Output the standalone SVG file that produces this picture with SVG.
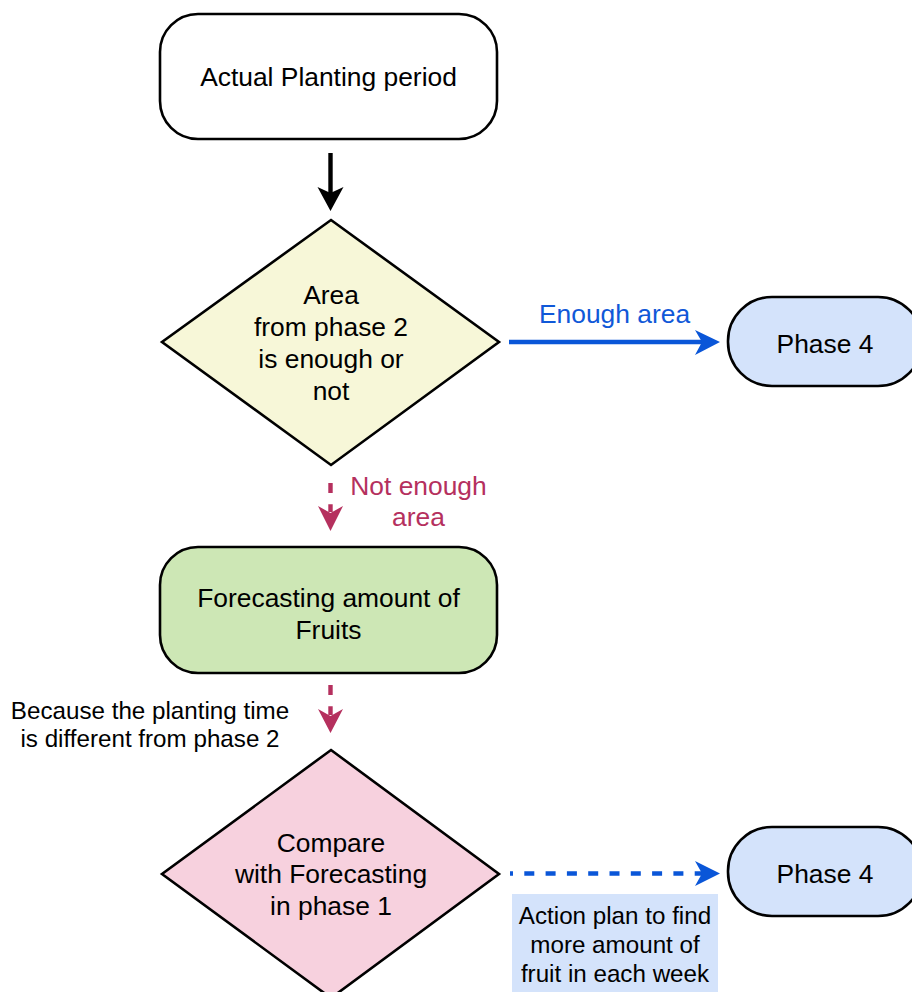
<svg xmlns="http://www.w3.org/2000/svg" width="912" height="992" viewBox="0 0 912 992">
  <defs>
    <style>
      text { font-family: "Liberation Sans", Arial, Helvetica, sans-serif; text-anchor: middle; }
      .main { font-size: 26.4px; fill: #000; }
      .small { font-size: 24.2px; fill: #000; }
      .node { stroke: #000; stroke-width: 2.6; }
      .blue-t { fill: #1058d8; }
      .pink-t { fill: #b5305e; }
    </style>
  </defs>
  <rect width="912" height="992" fill="#ffffff"/>

  <g id="node-actual-planting">
    <rect class="node" x="160" y="14" width="337" height="125" rx="38" ry="38" fill="#ffffff"/>
    <text class="main" x="328.5" y="86">Actual Planting period</text>
  </g>

  <g id="node-area-decision">
    <polygon class="node" points="331,220 499,342 331,465 162,342" fill="#f7f7d8"/>
    <text class="main" x="331" y="304">Area</text>
    <text class="main" x="331" y="336">from phase 2</text>
    <text class="main" x="331" y="368">is enough or</text>
    <text class="main" x="331" y="400">not</text>
  </g>

  <g id="node-phase4-a">
    <rect class="node" x="728" y="297" width="194" height="89" rx="44" ry="44" fill="#d4e3fb"/>
    <text class="main" x="825" y="353">Phase 4</text>
  </g>

  <g id="node-forecasting">
    <rect class="node" x="160" y="547" width="337" height="126" rx="38" ry="38" fill="#cde7b5"/>
    <text class="main" x="328.5" y="607">Forecasting amount of</text>
    <text class="main" x="328.5" y="639">Fruits</text>
  </g>

  <g id="node-compare-decision">
    <polygon class="node" points="331,750 499,874 331,998 162,874" fill="#f7d1de"/>
    <text class="main" x="331" y="852">Compare</text>
    <text class="main" x="331" y="883">with Forecasting</text>
    <text class="main" x="331" y="915">in phase 1</text>
  </g>

  <g id="node-phase4-b">
    <rect class="node" x="728" y="827" width="194" height="89" rx="44" ry="44" fill="#d4e3fb"/>
    <text class="main" x="825" y="883">Phase 4</text>
  </g>

  <g id="connectors">
    <!-- Actual planting -> Area decision -->
    <line x1="330.5" y1="153" x2="330.5" y2="194" stroke="#000" stroke-width="4.4"/>
    <path d="M330.5,211 L317.5,187 L330.5,193 L343.5,187 Z" fill="#000"/>

    <!-- Area decision -> Phase 4 (Enough area) -->
    <line x1="509" y1="342" x2="702" y2="342" stroke="#0a56d8" stroke-width="4.4"/>
    <path d="M720,342 L695,330 L702,342 L695,355 Z" fill="#0a56d8"/>
    <text class="main blue-t" x="614.5" y="323">Enough area</text>

    <!-- Area decision -> Forecasting (Not enough area) -->
    <line x1="330.5" y1="483" x2="330.5" y2="512" stroke="#b5305e" stroke-width="4.4" stroke-dasharray="10 11.3"/>
    <path d="M330.5,531 L318,506 L330.5,513 L343,506 Z" fill="#b5305e"/>
    <text class="main pink-t" x="418.5" y="495">Not enough</text>
    <text class="main pink-t" x="418.5" y="526">area</text>

    <!-- Forecasting -> Compare -->
    <line x1="330.5" y1="685" x2="330.5" y2="715" stroke="#b5305e" stroke-width="4.4" stroke-dasharray="10 11.3"/>
    <path d="M330.5,733 L318,709 L330.5,716 L343,709 Z" fill="#b5305e"/>
    <text class="small" x="150" y="719">Because the planting time</text>
    <text class="small" x="150" y="747">is different from phase 2</text>

    <!-- Compare -> Phase 4 (Action plan) -->
    <line x1="510" y1="873.5" x2="702" y2="873.5" stroke="#0a56d8" stroke-width="4.4" stroke-dasharray="10 11.3" stroke-dashoffset="7"/>
    <path d="M720,873.5 L695,861 L702,873.5 L695,886 Z" fill="#0a56d8"/>
    <rect x="512" y="894" width="206" height="98" fill="#d4e3fb"/>
    <text class="small" x="615" y="924">Action plan to find</text>
    <text class="small" x="615" y="953">more amount of</text>
    <text class="small" x="615" y="982">fruit in each week</text>
  </g>
</svg>
